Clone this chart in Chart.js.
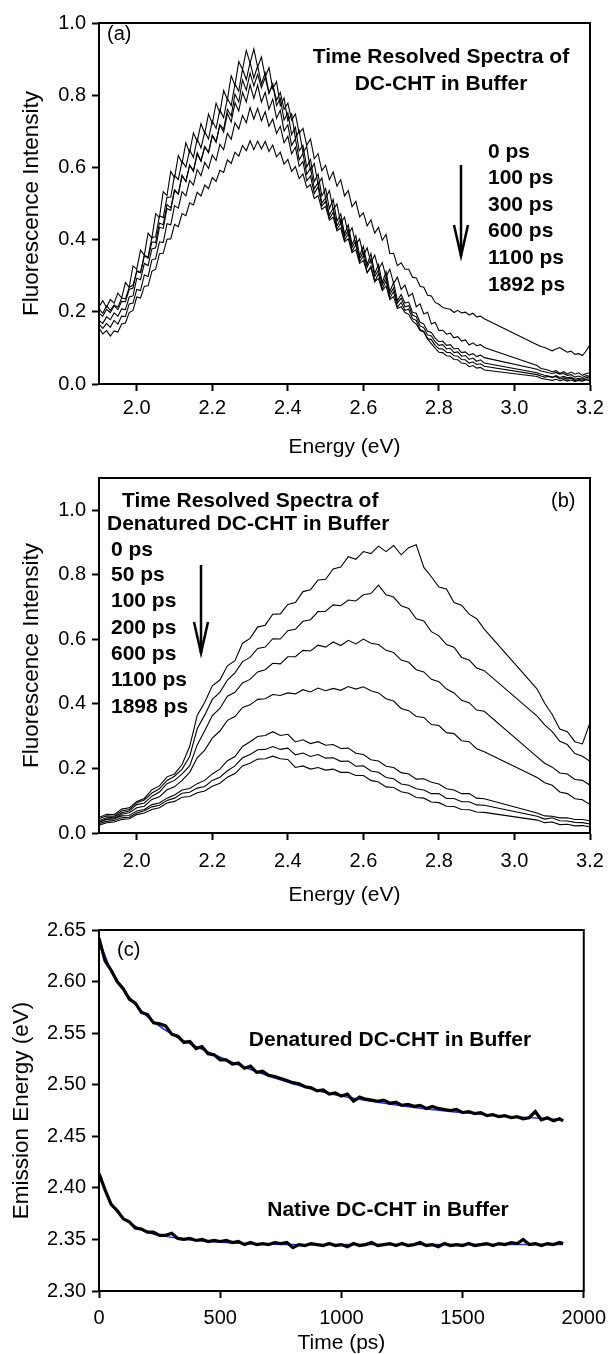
<!DOCTYPE html>
<html>
<head>
<meta charset="utf-8">
<script src="https://cdn.jsdelivr.net/npm/chart.js@4.4.1/dist/chart.umd.min.js"></script>
<style>
  html, body { margin: 0; padding: 0; background: #fff; }
  body { width: 614px; height: 1354px; position: relative; overflow: hidden; }
  .panel { position: absolute; left: 0; width: 614px; }
</style>
</head>
<body>
<div class="panel" style="top:0px;height:460px"><canvas id="chartA"></canvas></div>
<div class="panel" style="top:460px;height:452px"><canvas id="chartB"></canvas></div>
<div class="panel" style="top:902px;height:452px"><canvas id="chartC"></canvas></div>
<script>
// ---- data ----
// (a) native DC-CHT, spectra at several delays (0.01 eV grid, gap 2.92-3.06)
const energyA = [1.90,1.91,1.92,1.93,1.94,1.95,1.96,1.97,1.98,1.99,
  2.00,2.01,2.02,2.03,2.04,2.05,2.06,2.07,2.08,2.09,
  2.10,2.11,2.12,2.13,2.14,2.15,2.16,2.17,2.18,2.19,
  2.20,2.21,2.22,2.23,2.24,2.25,2.26,2.27,2.28,2.29,
  2.30,2.31,2.32,2.33,2.34,2.35,2.36,2.37,2.38,2.39,
  2.40,2.41,2.42,2.43,2.44,2.45,2.46,2.47,2.48,2.49,
  2.50,2.51,2.52,2.53,2.54,2.55,2.56,2.57,2.58,2.59,
  2.60,2.61,2.62,2.63,2.64,2.65,2.66,2.67,2.68,2.69,
  2.70,2.71,2.72,2.73,2.74,2.75,2.76,2.77,2.78,2.79,
  2.80,2.81,2.82,2.83,2.84,2.85,2.86,2.87,2.88,2.89,
  2.90,2.91,2.92,
  3.06,3.07,3.08,3.09,3.10,3.11,3.12,3.13,3.14,3.15,3.16,3.17,3.18,3.19,3.20];
const labelsA = ['0 ps', '100 ps', '300 ps', '600 ps', '1100 ps', '1892 ps'];
const a0 = [.208,.196,.217,.204,.219,.213,.238,.236,.268,.274,
  .312,.308,.356,.348,.394,.392,.446,.441,.497,.488,
  .538,.526,.578,.561,.607,.589,.641,.618,.658,.641,
  .689,.672,.718,.706,.761,.742,.803,.781,.842,.814,
  .861,.826,.858,.821,.849,.806,.828,.786,.808,.761,
  .778,.731,.748,.694,.708,.661,.679,.624,.638,.591,
  .606,.566,.587,.548,.566,.521,.536,.491,.506,.463,
  .474,.438,.455,.418,.434,.398,.414,.361,.362,.328,
  .336,.318,.318,.296,.294,.271,.268,.246,.244,.226,
  .221,.212,.209,.207,.198,.204,.197,.199,.191,.196,
  .186,.188,.181,
  .109,.104,.101,.096,.092,.097,.101,.094,.088,.091,.082,.084,.079,.092,.109];
const a1 = [.214,.231,.212,.234,.224,.252,.238,.281,.268,.327,
  .318,.371,.357,.418,.404,.472,.461,.533,.522,.589,
  .571,.633,.612,.668,.641,.696,.672,.721,.694,.748,
  .722,.778,.751,.813,.788,.854,.828,.893,.871,.924,
  .889,.928,.878,.906,.851,.876,.818,.838,.771,.792,
  .729,.748,.681,.702,.641,.657,.592,.611,.552,.571,
  .514,.536,.483,.499,.446,.462,.414,.433,.386,.402,
  .356,.377,.336,.357,.318,.336,.297,.318,.279,.296,
  .262,.274,.243,.251,.214,.222,.194,.199,.166,.171,
  .148,.149,.138,.141,.128,.131,.119,.122,.108,.114,
  .106,.109,.101,
  .051,.043,.041,.038,.034,.037,.029,.034,.028,.033,.027,.031,.024,.029,.031];
const a2 = [.196,.188,.207,.198,.217,.206,.229,.228,.262,.266,
  .314,.309,.356,.352,.406,.408,.466,.461,.517,.518,
  .578,.566,.617,.601,.648,.628,.679,.654,.698,.679,
  .729,.708,.759,.738,.791,.771,.831,.811,.872,.843,
  .891,.848,.881,.831,.862,.806,.832,.771,.791,.731,
  .751,.691,.711,.646,.661,.601,.622,.561,.581,.521,
  .541,.486,.511,.451,.471,.416,.441,.386,.411,.356,
  .381,.331,.361,.306,.331,.281,.311,.256,.281,.231,
  .248,.224,.227,.199,.196,.171,.166,.146,.143,.127,
  .117,.119,.107,.109,.097,.099,.087,.089,.080,.084,
  .076,.080,.073,
  .041,.036,.034,.031,.029,.032,.027,.029,.024,.026,.019,.022,.018,.023,.021];
const a3 = [.176,.168,.186,.178,.197,.188,.208,.206,.241,.244,
  .293,.289,.334,.328,.374,.377,.434,.431,.486,.481,
  .536,.526,.577,.561,.606,.591,.636,.617,.657,.641,
  .688,.669,.718,.698,.749,.726,.779,.756,.808,.781,
  .829,.791,.828,.781,.808,.761,.789,.736,.758,.701,
  .718,.661,.679,.621,.639,.581,.598,.541,.558,.501,
  .516,.468,.487,.438,.457,.408,.427,.378,.397,.348,
  .366,.324,.346,.298,.316,.274,.296,.248,.266,.224,
  .238,.214,.217,.191,.186,.161,.156,.136,.133,.117,
  .107,.109,.097,.099,.087,.089,.077,.079,.068,.072,
  .063,.067,.058,
  .031,.027,.024,.022,.019,.023,.018,.021,.017,.019,.013,.016,.014,.018,.019];
const a4 = [.166,.154,.168,.157,.176,.166,.188,.187,.222,.224,
  .262,.259,.302,.298,.344,.347,.394,.392,.444,.441,
  .494,.487,.533,.521,.564,.551,.594,.577,.614,.597,
  .634,.619,.664,.649,.694,.678,.724,.706,.744,.724,
  .766,.734,.764,.729,.754,.714,.734,.694,.714,.668,
  .686,.638,.656,.603,.616,.563,.576,.528,.546,.493,
  .506,.458,.476,.428,.446,.398,.416,.368,.386,.338,
  .356,.308,.326,.283,.306,.263,.286,.238,.256,.213,
  .226,.204,.207,.181,.176,.151,.146,.126,.123,.107,
  .098,.097,.088,.087,.078,.077,.068,.067,.058,.061,
  .054,.056,.049,
  .026,.022,.019,.021,.018,.021,.014,.017,.013,.016,.009,.012,.011,.014,.014];
const a5 = [.156,.139,.148,.133,.147,.144,.166,.169,.198,.204,
  .241,.238,.271,.272,.312,.318,.361,.362,.401,.402,
  .442,.436,.472,.466,.502,.496,.531,.521,.551,.541,
  .572,.561,.592,.586,.621,.611,.642,.631,.661,.646,
  .674,.649,.673,.651,.672,.644,.662,.629,.642,.609,
  .622,.589,.602,.569,.582,.544,.552,.514,.522,.484,
  .492,.454,.462,.424,.432,.394,.402,.364,.372,.334,
  .342,.309,.322,.284,.292,.259,.272,.234,.242,.209,
  .214,.198,.193,.174,.166,.148,.144,.124,.112,.099,
  .088,.087,.078,.077,.068,.067,.058,.057,.048,.051,
  .044,.046,.039,
  .021,.016,.014,.012,.010,.013,.009,.012,.008,.011,.007,.010,.008,.012,.009];

// (b) denatured DC-CHT (0.02 eV grid, gap 2.92-3.06)
const energyB = [1.90,1.92,1.94,1.96,1.98,2.00,2.02,2.04,2.06,2.08,2.10,2.12,2.14,2.16,2.18,2.20,2.22,2.24,2.26,2.28,
  2.30,2.32,2.34,2.36,2.38,2.40,2.42,2.44,2.46,2.48,2.50,2.52,2.54,2.56,2.58,2.60,2.62,2.64,2.66,2.68,
  2.70,2.72,2.74,2.76,2.78,2.80,2.82,2.84,2.86,2.88,2.90,2.92,3.06,3.08,3.10,3.12,3.14,3.16,3.18,3.20];
const labelsB = ['0 ps', '50 ps', '100 ps', '200 ps', '600 ps', '1100 ps', '1898 ps'];
const b0 = [0.048,0.058,0.057,0.074,0.078,0.098,0.107,0.134,0.146,0.174,
  0.183,0.212,0.268,0.364,0.405,0.456,0.474,0.518,0.534,0.588,
  0.603,0.638,0.644,0.678,0.679,0.708,0.714,0.748,0.754,0.784,
  0.786,0.818,0.824,0.856,0.848,0.872,0.866,0.889,0.872,0.891,
  0.862,0.884,0.893,0.823,0.794,0.762,0.756,0.714,0.706,0.678,
  0.664,0.632,0.446,0.402,0.367,0.322,0.314,0.283,0.276,0.342];
const b1 = [0.044,0.053,0.052,0.068,0.073,0.094,0.102,0.124,0.137,0.163,
  0.176,0.198,0.237,0.323,0.366,0.414,0.436,0.474,0.496,0.531,
  0.544,0.572,0.576,0.602,0.601,0.627,0.631,0.656,0.661,0.686,
  0.687,0.707,0.704,0.722,0.719,0.738,0.742,0.768,0.738,0.731,
  0.704,0.696,0.664,0.657,0.624,0.611,0.584,0.576,0.544,0.536,
  0.511,0.503,0.362,0.335,0.314,0.284,0.274,0.246,0.238,0.222];
const b2 = [0.038,0.047,0.049,0.063,0.068,0.088,0.093,0.114,0.127,0.153,
  0.163,0.183,0.208,0.273,0.317,0.364,0.386,0.424,0.436,0.465,
  0.476,0.499,0.506,0.526,0.524,0.546,0.546,0.566,0.564,0.582,
  0.576,0.592,0.581,0.597,0.586,0.601,0.588,0.584,0.566,0.559,
  0.536,0.529,0.506,0.499,0.476,0.469,0.446,0.434,0.411,0.404,
  0.381,0.377,0.236,0.216,0.204,0.186,0.183,0.166,0.163,0.148];
const b3 = [0.034,0.043,0.044,0.058,0.063,0.078,0.083,0.104,0.112,0.134,
  0.143,0.163,0.188,0.233,0.257,0.294,0.316,0.349,0.361,0.389,
  0.397,0.414,0.416,0.429,0.426,0.434,0.431,0.444,0.437,0.449,
  0.441,0.448,0.442,0.454,0.446,0.453,0.441,0.434,0.416,0.409,
  0.386,0.379,0.361,0.358,0.336,0.333,0.311,0.308,0.286,0.283,
  0.261,0.252,0.172,0.156,0.148,0.127,0.122,0.106,0.103,0.088];
const b4 = [0.033,0.042,0.044,0.053,0.054,0.068,0.073,0.088,0.093,0.108,
  0.118,0.133,0.138,0.153,0.163,0.183,0.198,0.224,0.237,0.268,
  0.283,0.299,0.302,0.314,0.302,0.306,0.282,0.289,0.277,0.283,
  0.272,0.274,0.262,0.263,0.247,0.243,0.227,0.223,0.207,0.203,
  0.187,0.183,0.167,0.168,0.157,0.152,0.137,0.133,0.122,0.122,
  0.108,0.106,0.062,0.053,0.052,0.047,0.047,0.042,0.042,0.038];
const b5 = [0.029,0.036,0.039,0.047,0.049,0.062,0.069,0.081,0.086,0.101,
  0.108,0.123,0.126,0.139,0.144,0.163,0.173,0.193,0.208,0.233,
  0.243,0.258,0.259,0.268,0.259,0.263,0.242,0.248,0.237,0.243,
  0.232,0.233,0.222,0.223,0.207,0.208,0.192,0.188,0.172,0.168,
  0.152,0.148,0.137,0.133,0.122,0.122,0.107,0.107,0.097,0.097,
  0.087,0.086,0.052,0.043,0.047,0.038,0.037,0.033,0.032,0.028];
const b6 = [0.024,0.032,0.034,0.042,0.044,0.057,0.062,0.073,0.078,0.093,
  0.098,0.111,0.113,0.125,0.130,0.145,0.154,0.173,0.184,0.208,
  0.216,0.229,0.230,0.238,0.230,0.228,0.203,0.208,0.198,0.203,
  0.195,0.198,0.188,0.188,0.178,0.178,0.163,0.158,0.143,0.141,
  0.128,0.123,0.110,0.108,0.096,0.094,0.083,0.082,0.073,0.072,
  0.065,0.064,0.040,0.032,0.034,0.026,0.027,0.022,0.023,0.019];

// (c) emission peak energy vs time
const timePs = [0,25,50,75,100,125,150,175,200,225,250,275,300,325,350,375,400,425,450,475,
  500,525,550,575,600,625,650,675,700,725,750,775,800,825,850,875,900,925,950,975,
  1000,1025,1050,1075,1100,1125,1150,1175,1200,1225,1250,1275,1300,1325,1350,1375,1400,1425,1450,1475,
  1500,1525,1550,1575,1600,1625,1650,1675,1700,1725,1750,1775,1800,1825,1850,1875,1900,1915];
const denatured = [2.642,2.620,2.611,2.600,2.593,2.583,2.579,2.570,2.568,2.560,
  2.559,2.557,2.549,2.547,2.541,2.542,2.535,2.537,2.530,2.529,
  2.524,2.524,2.520,2.521,2.516,2.518,2.512,2.513,2.509,2.508,
  2.506,2.504,2.502,2.501,2.498,2.497,2.494,2.495,2.491,2.492,
  2.489,2.491,2.484,2.488,2.486,2.485,2.484,2.485,2.482,2.483,
  2.480,2.481,2.479,2.480,2.477,2.479,2.477,2.476,2.475,2.476,
  2.473,2.474,2.472,2.473,2.470,2.471,2.469,2.470,2.468,2.469,
  2.467,2.468,2.474,2.466,2.468,2.465,2.467,2.465];
const native = [2.414,2.398,2.384,2.378,2.370,2.367,2.361,2.360,2.357,2.357,
  2.354,2.354,2.356,2.351,2.350,2.351,2.349,2.350,2.348,2.349,
  2.348,2.349,2.347,2.348,2.345,2.347,2.345,2.346,2.345,2.347,
  2.346,2.347,2.342,2.345,2.344,2.346,2.345,2.344,2.346,2.344,
  2.345,2.343,2.346,2.344,2.345,2.347,2.344,2.345,2.346,2.344,
  2.346,2.344,2.345,2.347,2.344,2.345,2.343,2.346,2.344,2.345,
  2.344,2.346,2.344,2.345,2.346,2.344,2.346,2.345,2.347,2.346,
  2.350,2.345,2.346,2.344,2.346,2.345,2.347,2.346];
// fitted curves (blue, mostly hidden under the data)
const fitTime = [0,50,100,200,300,400,600,800,1000,1300,1600,1915];
const fitDenatured = [2.640,2.611,2.592,2.566,2.549,2.537,2.517,2.501,2.489,2.478,2.471,2.466];
const fitNative = [2.412,2.385,2.371,2.357,2.352,2.349,2.346,2.345,2.345,2.345,2.345,2.345];

const energyTicks = [2.0, 2.2, 2.4, 2.6, 2.8, 3.0, 3.2];
const intensityTicks = [0.0, 0.2, 0.4, 0.6, 0.8, 1.0];
const timeTicks = [0, 500, 1000, 1500, 2000];
const emissionTicks = [2.30, 2.35, 2.40, 2.45, 2.50, 2.55, 2.60, 2.65];

// ---- helpers ----
const FONT = "'Liberation Sans', Arial, Helvetica, sans-serif";
Chart.defaults.font.family = FONT;
Chart.defaults.color = '#000';

function pts(xs, ys) {
  return xs.map((x, i) => ({x: x, y: ys[i]}));
}

function axis(o) {
  return {
    type: 'linear',
    min: o.min,
    max: o.max,
    afterBuildTicks: s => { s.ticks = o.ticks.map(v => ({value: v})); },
    afterFit: s => { if (s.isHorizontal()) s.height = o.size; else s.width = o.size; },
    ticks: {
      font: {size: 20}, color: '#000', padding: o.pad,
      autoSkip: false, maxRotation: 0,
      callback: v => Number(v).toFixed(o.dec)
    },
    grid: {drawOnChartArea: false, drawTicks: true, tickLength: 7, tickWidth: 2, tickColor: '#000', color: '#000'},
    border: {display: true, color: '#000', width: 2},
    title: {display: true, text: o.title, color: '#000', font: {size: o.titleSize, lineHeight: 1}, padding: o.titlePad}
  };
}

const boxPlugin = {
  id: 'box',
  afterDatasetsDraw(chart) {
    const a = chart.chartArea, ctx = chart.ctx;
    ctx.save();
    ctx.strokeStyle = '#000';
    ctx.lineWidth = 2;
    ctx.strokeRect(a.left, a.top, a.right - a.left, a.bottom - a.top);
    ctx.restore();
  }
};

// text and arrows, positions in page pixels
function notes(top, texts, arrows) {
  return {
    id: 'notes',
    afterDraw(chart) {
      const ctx = chart.ctx;
      ctx.save();
      ctx.fillStyle = '#000';
      ctx.strokeStyle = '#000';
      ctx.textBaseline = 'middle';
      texts.forEach(t => {
        ctx.font = (t.bold ? 'bold ' : '') + (t.size || 21) + 'px ' + FONT;
        ctx.textAlign = t.align || 'left';
        ctx.fillText(t.text, t.x, t.y - top);
      });
      arrows.forEach(a => {
        ctx.lineWidth = 2.5;
        ctx.beginPath();
        ctx.moveTo(a.x, a.y1 - top);
        ctx.lineTo(a.x, a.y2 - top);
        ctx.stroke();
        ctx.beginPath();
        ctx.moveTo(a.x - 7, a.y2 - 31 - top);
        ctx.lineTo(a.x, a.y2 - top);
        ctx.lineTo(a.x + 7, a.y2 - 31 - top);
        ctx.stroke();
      });
      ctx.restore();
    }
  };
}

function spectrumSets(xs, labels, series) {
  return series.map((s, i) => ({
    label: labels[i],
    data: pts(xs, s),
    borderColor: '#000',
    borderWidth: 1.1,
    pointRadius: 0,
    tension: 0,
    fill: false
  }));
}

function baseOptions(top) {
  return {
    responsive: true,
    maintainAspectRatio: false,
    animation: false,
    devicePixelRatio: 1,
    layout: {padding: {top: top, right: 24, left: 0, bottom: 0}},
    plugins: {legend: {display: false}, tooltip: {enabled: false}}
  };
}

// ---- (a) ----
const optA = baseOptions(23);
optA.scales = {
  x: axis({min: 1.9, max: 3.2, ticks: energyTicks, dec: 1, size: 76, pad: 5,
           title: 'Energy (eV)', titleSize: 21, titlePad: {top: 0, bottom: 2.5}}),
  y: axis({min: 0, max: 1.0, ticks: intensityTicks, dec: 1, size: 99, pad: 6,
           title: 'Fluorescence Intensity', titleSize: 22.5, titlePad: {top: 20.5, bottom: 0}})
};
const textsA = [
  {text: '(a)', x: 107, y: 34, size: 20},
  {text: 'Time Resolved Spectra of', x: 441, y: 57, bold: true, align: 'center'},
  {text: 'DC-CHT in Buffer', x: 441, y: 84, bold: true, align: 'center'}
];
const rowsA = [152, 178, 205, 231, 258, 285];
labelsA.forEach((l, i) => textsA.push({text: l, x: 488, y: rowsA[i], bold: true}));
new Chart(document.getElementById('chartA'), {
  type: 'line',
  data: {datasets: spectrumSets(energyA, labelsA, [a0, a1, a2, a3, a4, a5])},
  options: optA,
  plugins: [boxPlugin, notes(0, textsA, [{x: 461, y1: 165, y2: 256}])]
});

// ---- (b) ----
const optB = baseOptions(14);
optB.scales = {
  x: axis({min: 1.9, max: 3.2, ticks: energyTicks, dec: 1, size: 79, pad: 9,
           title: 'Energy (eV)', titleSize: 21, titlePad: {top: 0, bottom: 6.5}}),
  y: axis({min: 0, max: 1.1, ticks: intensityTicks, dec: 1, size: 99, pad: 6,
           title: 'Fluorescence Intensity', titleSize: 22.5, titlePad: {top: 20.5, bottom: 0}})
};
const textsB = [
  {text: '(b)', x: 551, y: 501, size: 20},
  {text: 'Time Resolved Spectra of', x: 122, y: 501, bold: true},
  {text: 'Denatured DC-CHT in Buffer', x: 107, y: 524, bold: true}
];
const rowsB = [550, 575.5, 601.5, 628, 654, 680.5, 707];
labelsB.forEach((l, i) => textsB.push({text: l, x: 111, y: rowsB[i], bold: true}));
new Chart(document.getElementById('chartB'), {
  type: 'line',
  data: {datasets: spectrumSets(energyB, labelsB, [b0, b1, b2, b3, b4, b5, b6])},
  options: optB,
  plugins: [boxPlugin, notes(460, textsB, [{x: 201, y1: 565, y2: 653}])]
});

// ---- (c) ----
const optC = baseOptions(28);
optC.scales = {
  x: axis({min: 0, max: 2000, ticks: timeTicks, dec: 0, size: 63, pad: 8,
           title: 'Time (ps)', titleSize: 21, titlePad: {top: 0, bottom: 0.5}}),
  y: axis({min: 2.30, max: 2.65, ticks: emissionTicks, dec: 2, size: 99, pad: 6,
           title: 'Emission Energy (eV)', titleSize: 22.5, titlePad: {top: 10.5, bottom: 0}})
};
const dataLine = {borderColor: '#000', borderWidth: 3.2, pointRadius: 0, tension: 0, fill: false};
const fitLine = {borderColor: '#2030d0', borderWidth: 1.5, pointRadius: 0, tension: 0.3, fill: false};
new Chart(document.getElementById('chartC'), {
  type: 'line',
  data: {datasets: [
    Object.assign({label: 'Denatured DC-CHT in Buffer', data: pts(timePs, denatured)}, dataLine),
    Object.assign({label: 'Native DC-CHT in Buffer', data: pts(timePs, native)}, dataLine),
    Object.assign({label: 'fit denatured', data: pts(fitTime, fitDenatured)}, fitLine),
    Object.assign({label: 'fit native', data: pts(fitTime, fitNative)}, fitLine)
  ]},
  options: optC,
  plugins: [boxPlugin, notes(902, [
    {text: '(c)', x: 117, y: 950, size: 20},
    {text: 'Denatured DC-CHT in Buffer', x: 390, y: 1040, bold: true, align: 'center'},
    {text: 'Native DC-CHT in Buffer', x: 388, y: 1210, bold: true, align: 'center'}
  ], [])]
});
</script>
</body>
</html>
